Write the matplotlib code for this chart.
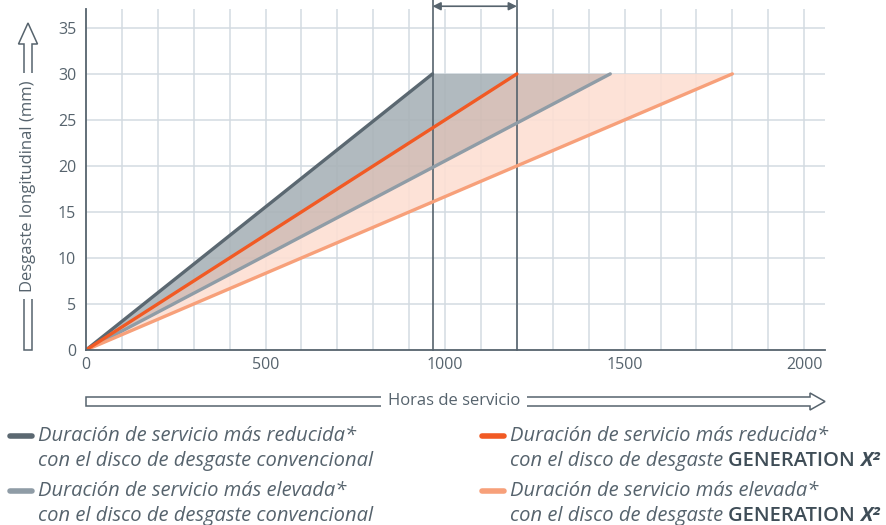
import matplotlib
matplotlib.use("Agg")
import matplotlib.pyplot as plt
from matplotlib.patches import Polygon
from matplotlib.lines import Line2D

plt.rcParams['font.family'] = ['Open Sans', 'DejaVu Sans']

# ===================== DATOS =====================
horas_fin = [965, 1200, 1460, 1800]     # horas al llegar a 30 mm
desgaste_max = 30
cores_linha = ["#5b6871", "#f15a24", "#8f9ca6", "#f7a07a"]
cores_area = ["#a9b3b8", "#d2bbb3", "#fddfd3"]
legenda_l1 = ["Duración de servicio más reducida*", "Duración de servicio más reducida*",
              "Duración de servicio más elevada*", "Duración de servicio más elevada*"]
legenda_l2 = ["con el disco de desgaste convencional", "con el disco de desgaste ",
              "con el disco de desgaste convencional", "con el disco de desgaste "]
xticks = [0, 500, 1000, 1500, 2000]
yticks = [0, 5, 10, 15, 20, 25, 30, 35]

cor_texto = "#56636d"
cor_grade = "#d3dbe1"

W, H = 887, 525
fig = plt.figure(figsize=(W / 100, H / 100), dpi=100)
ax = fig.add_axes([86 / W, 1 - 350 / H, (825 - 86) / W, (350 - 9) / H])

def px(x, y):
    return (x / W, 1 - y / H)

# ===================== GRÁFICO =====================
ax.set_xlim(0, 2058)
ax.set_ylim(0, 37.05)

for x in range(100, 2001, 100):
    ax.axvline(x, color=cor_grade, lw=1.1, zorder=0)
for y in yticks[1:]:
    ax.axhline(y, color=cor_grade, lw=1.1, zorder=0)

# areas entre las rectas
for i in range(3):
    ax.fill([0, horas_fin[i], horas_fin[i + 1]], [0, desgaste_max, desgaste_max],
            color=cores_area[i], alpha=0.9, lw=0, zorder=1)

# lineas verticales de referencia
for x in horas_fin[:2]:
    ax.plot([x, x], [0, 38.3], color=cor_texto, lw=1.2, zorder=2, clip_on=False)
ax.annotate("", xy=(horas_fin[0], 37.35), xytext=(horas_fin[1], 37.35),
            arrowprops=dict(arrowstyle="<|-|>", color=cor_texto, lw=1.2,
                            mutation_scale=12, shrinkA=0, shrinkB=0),
            annotation_clip=False)

ordem = [0, 2, 3, 1]
for i in ordem:
    ax.plot([0, horas_fin[i]], [0, desgaste_max], color=cores_linha[i], lw=2.4,
            solid_capstyle="round", zorder=3)

ax.set_xticks(xticks)
ax.set_yticks(yticks)
ax.tick_params(length=0, colors=cor_texto, labelsize=11.5)
ax.tick_params(axis="x", pad=5)
ax.tick_params(axis="y", pad=7)
for lado in ["top", "right"]:
    ax.spines[lado].set_visible(False)
for lado in ["left", "bottom"]:
    ax.spines[lado].set_color(cor_texto)
    ax.spines[lado].set_linewidth(1.3)
    ax.spines[lado].set_zorder(4)

# ===================== FLECHAS DE LOS EJES =====================
seta_y = [(24, 350), (32, 350), (32, 44), (37.5, 44), (28, 23), (18.5, 44), (24, 44)]
fig.patches.append(Polygon([px(*p) for p in seta_y], closed=True, fc="white",
                           ec=cor_texto, lw=1.1, transform=fig.transFigure, figure=fig))
fig.text(*px(28, 186), "Desgaste longitudinal (mm)", rotation=90, ha="center", va="center",
         color=cor_texto, fontsize=12,
         bbox=dict(fc="white", ec="none", pad=5))

seta_x = [(86, 397), (810, 397), (810, 393), (825, 401.5), (810, 410), (810, 406), (86, 406)]
fig.patches.append(Polygon([px(*p) for p in seta_x], closed=True, fc="white",
                           ec=cor_texto, lw=1.1, transform=fig.transFigure, figure=fig))
fig.text(*px(454, 401), "Horas de servicio", ha="center", va="center",
         color=cor_texto, fontsize=12,
         bbox=dict(fc="white", ec="none", pad=5))

# ===================== LEYENDA =====================
pos_leg = [(10, 436), (482, 436), (10, 491), (482, 491)]
renderer = fig.canvas.get_renderer()
for i, (lx, ly) in enumerate(pos_leg):
    fig.add_artist(Line2D([px(lx, ly)[0], px(lx + 22, ly)[0]], [px(lx, ly)[1]] * 2,
                          color=cores_linha[i], lw=4, solid_capstyle="round",
                          transform=fig.transFigure))
    fig.text(*px(lx + 28, ly), legenda_l1[i], style="italic", color=cor_texto,
             fontsize=14.5, va="center")
    t = fig.text(*px(lx + 28, ly + 25), legenda_l2[i], style="italic", color=cor_texto,
                 fontsize=14.5, va="center")
    if i in (1, 3):
        bb = t.get_window_extent(renderer)
        t2 = fig.text(bb.x1 / W, px(0, ly + 25)[1], "GENERATION ", color="#3f4d57",
                      fontsize=14.5, fontweight="semibold", va="center")
        bb2 = t2.get_window_extent(renderer)
        fig.text(bb2.x1 / W, px(0, ly + 25)[1], "X²", color="#3f4d57", fontsize=14.5,
                 fontweight="bold", style="italic", va="center")

fig.savefig("out.png", dpi=100)
